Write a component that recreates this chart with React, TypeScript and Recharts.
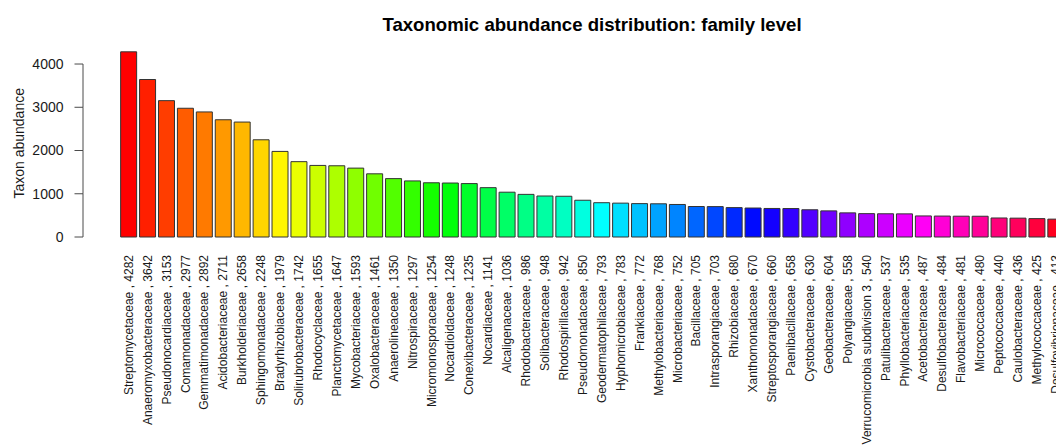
import React from 'react';
import { BarChart, Bar, XAxis, YAxis, Cell } from 'recharts';

// Families ordered by abundance (family level)
const families = [
  'Streptomycetaceae', 'Anaeromyxobacteraceae', 'Pseudonocardiaceae', 'Comamonadaceae',
  'Gemmatimonadaceae', 'Acidobacteriaceae', 'Burkholderiaceae', 'Sphingomonadaceae',
  'Bradyrhizobiaceae', 'Solirubrobacteraceae', 'Rhodocyclaceae', 'Planctomycetaceae',
  'Mycobacteriaceae', 'Oxalobacteraceae', 'Anaerolineaceae', 'Nitrospiraceae',
  'Micromonosporaceae', 'Nocardioidaceae', 'Conexibacteraceae', 'Nocardiaceae',
  'Alcaligenaceae', 'Rhodobacteraceae', 'Solibacteraceae', 'Rhodospirillaceae',
  'Pseudomonadaceae', 'Geodermatophilaceae', 'Hyphomicrobiaceae', 'Frankiaceae',
  'Methylobacteriaceae', 'Microbacteriaceae', 'Bacillaceae', 'Intrasporangiaceae',
  'Rhizobiaceae', 'Xanthomonadaceae', 'Streptosporangiaceae', 'Paenibacillaceae',
  'Cystobacteraceae', 'Geobacteraceae', 'Polyangiaceae', 'Verrucomicrobia subdivision 3',
  'Patulibacteraceae', 'Phyllobacteriaceae', 'Acetobacteraceae', 'Desulfobacteraceae',
  'Flavobacteriaceae', 'Micrococcaceae', 'Peptococcaceae', 'Caulobacteraceae',
  'Methylococcaceae', 'Desulfovibrionaceae',
];

const abundances = [
  4282, 3642, 3153, 2977,
  2892, 2711, 2658, 2248,
  1979, 1742, 1655, 1647,
  1593, 1461, 1350, 1297,
  1254, 1248, 1235, 1141,
  1036, 986, 948, 942,
  850, 793, 783, 772,
  768, 752, 705, 703,
  680, 670, 660, 658,
  630, 604, 558, 540,
  537, 535, 487, 484,
  481, 480, 440, 436,
  425, 413,
];

const yTicks = [0, 1000, 2000, 3000, 4000];
const yDomain: [number, number] = [0, 4500];

const data = families.map((family, i) => ({ family, abundance: abundances[i] }));

// rainbow palette: hue steps evenly around the colour wheel
const barColors = families.map((_, i) => `hsl(${(i / families.length) * 360}, 100%, 50%)`);

const FONT = '"Liberation Sans", Arial, Helvetica, sans-serif';
const VIEW_W = 1056;
const CHART_W = 1070;
const CHART_H = 446;
const MARGIN = { top: 42.4, right: 4.8, bottom: 0, left: 23 };
const Y_AXIS_W = 60;
const X_AXIS_H = 209;
const PLOT_H = CHART_H - MARGIN.top - MARGIN.bottom - X_AXIS_H;
const TICK_STEP = (PLOT_H * (yTicks[1] - yTicks[0])) / (yDomain[1] - yDomain[0]);
const AXIS_COLOR = '#4a4a4a';
const TEXT_COLOR = '#1a1a1a';

// y ticks: tick mark, label and the spine segment up to the next tick
function YTick(props: any) {
  const { x, y, payload } = props;
  const isTop = payload.value === yTicks[yTicks.length - 1];
  return (
    <g>
      {!isTop && (
        <line x1={x} y1={y} x2={x} y2={y - TICK_STEP} stroke={AXIS_COLOR} strokeWidth={1} />
      )}
      <line x1={x - 8.5} y1={y} x2={x} y2={y} stroke={AXIS_COLOR} strokeWidth={1} />
      <text
        x={x - 19.5}
        y={y}
        dy="0.35em"
        textAnchor="end"
        fontFamily={FONT}
        fontSize={14}
        fill={TEXT_COLOR}
      >
        {payload.value}
      </text>
    </g>
  );
}

// vertical category labels: "<family> , <abundance>"
function XTick(props: any) {
  const { x, y, payload, index } = props;
  return (
    <g transform={`translate(${x},${y + 18}) rotate(-90)`}>
      <text
        x={0}
        y={0}
        dy="0.35em"
        textAnchor="end"
        fontFamily={FONT}
        fontSize={12}
        fill={TEXT_COLOR}
      >
        {`${payload.value} , ${abundances[index]}`}
      </text>
    </g>
  );
}

export default function App() {
  return (
    <div
      style={{
        position: 'relative',
        width: VIEW_W,
        height: CHART_H,
        overflow: 'hidden',
        background: '#ffffff',
      }}
    >
      <style>{'body{margin:0;}'}</style>
      <BarChart
        width={CHART_W}
        height={CHART_H}
        data={data}
        margin={MARGIN}
        barCategoryGap="8.2%"
      >
        <XAxis
          dataKey="family"
          interval={0}
          height={X_AXIS_H}
          axisLine={false}
          tickLine={false}
          tickSize={0}
          tickMargin={0}
          padding={{ left: 36.1, right: 0 }}
          tick={<XTick />}
        />
        <YAxis
          width={Y_AXIS_W}
          domain={yDomain}
          ticks={yTicks}
          axisLine={false}
          tickLine={false}
          tickSize={0}
          tickMargin={0}
          tick={<YTick />}
        />
        <Bar dataKey="abundance" stroke="#333333" strokeWidth={1} isAnimationActive={false}>
          {data.map((d, i) => (
            <Cell key={d.family} fill={barColors[i]} />
          ))}
        </Bar>
      </BarChart>
      <svg
        width={VIEW_W}
        height={CHART_H}
        style={{ position: 'absolute', left: 0, top: 0, pointerEvents: 'none' }}
      >
        <text
          x={592}
          y={31}
          textAnchor="middle"
          fontFamily={FONT}
          fontSize={18.6}
          fontWeight="bold"
          fill="#000000"
        >
          Taxonomic abundance distribution: family level
        </text>
        <text
          transform="translate(24,143.3) rotate(-90)"
          textAnchor="middle"
          fontFamily={FONT}
          fontSize={14}
          fill={TEXT_COLOR}
        >
          Taxon abundance
        </text>
      </svg>
    </div>
  );
}
